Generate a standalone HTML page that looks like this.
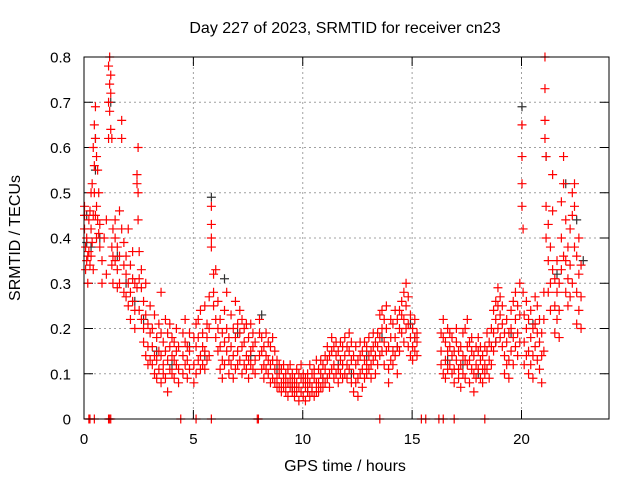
<!DOCTYPE html>
<html><head><meta charset="utf-8"><style>
body{margin:0;background:#fff;}
svg{display:block;font-family:"Liberation Sans",sans-serif;}
</style></head><body>
<svg id="chart" width="640" height="480">
<rect width="640" height="480" fill="#fff"/>
<text x="345" y="33" font-size="16" text-anchor="middle">Day 227 of 2023, SRMTID for receiver cn23</text>
<text x="345" y="471" font-size="16" text-anchor="middle">GPS time / hours</text>
<text transform="translate(20,238) rotate(-90)" font-size="16" text-anchor="middle">SRMTID / TECUs</text>
<g id="grid"></g><g id="ticks"></g><g id="black"></g><g id="red"></g>
<rect x="84" y="57" width="525" height="362" fill="none" stroke="#000" stroke-width="1"/>
</svg>
<script>
const xTicks=[0,5,10,15,20];
const yTicks=[0,0.1,0.2,0.3,0.4,0.5,0.6,0.7,0.8];
const yTickLabels=["0","0.1","0.2","0.3","0.4","0.5","0.6","0.7","0.8"];
const zeroTimes=[0.2,0.25,0.45,1.1,1.15,1.2,4.4,5.1,5.8,7.9,7.95,13.5,15.4,15.6,16.2,16.4,16.9,18.3];
const redTimes=[0,0.05,0.1,0.15,0.2,0.25,0.3,0.35,0.4,0.45,0.5,0.55,0.6,0.65,0.7,0.8,0.9,1.0,1.1,1.15,1.2,1.25,1.3,1.4,1.5,1.6,1.7,1.8,1.9,2.0,2.1,2.2,2.3,2.4,2.45,2.5,2.6,2.7,2.8,2.9,3.0,3.1,3.2,3.3,3.4,3.5,3.6,3.7,3.8,3.9,4.0,4.1,4.2,4.3,4.5,4.6,4.7,4.8,5.0,5.1,5.2,5.3,5.4,5.5,5.6,5.7,5.8,5.9,6.0,6.1,6.2,6.3,6.4,6.5,6.6,6.7,6.8,6.9,7.0,7.1,7.2,7.3,7.4,7.5,7.6,7.7,7.8,8.0,8.1,8.2,8.3,8.4,8.5,8.6,8.7,8.8,8.9,9.0,9.1,9.2,9.3,9.4,9.5,9.6,9.7,9.8,9.9,10.0,10.1,10.2,10.3,10.4,10.5,10.6,10.7,10.8,10.9,11.0,11.1,11.2,11.3,11.4,11.5,11.6,11.7,11.8,11.9,12.0,12.1,12.2,12.3,12.4,12.5,12.6,12.7,12.8,12.9,13.0,13.1,13.2,13.3,13.4,13.5,13.6,13.7,13.8,13.9,14.0,14.1,14.2,14.3,14.4,14.5,14.6,14.7,14.8,14.9,15.0,15.1,15.2,16.3,16.4,16.5,16.6,16.7,16.8,16.9,17.0,17.1,17.2,17.3,17.4,17.5,17.6,17.7,17.8,17.9,18.0,18.1,18.2,18.3,18.4,18.5,18.6,18.7,18.8,18.9,19.0,19.1,19.2,19.3,19.4,19.5,19.6,19.7,19.8,19.9,20.0,20.05,20.1,20.2,20.3,20.4,20.5,20.6,20.7,20.8,20.9,21.0,21.05,21.1,21.2,21.3,21.4,21.5,21.6,21.7,21.8,21.9,22.0,22.1,22.2,22.3,22.4,22.5,22.6,22.7];
const redValues=[[.45,.47,.42],[.38,.33],[.40,.35],[.30,.36],[.44,.37],[.46,.34],[.50,.42,.36],[.52,.39],[.45,.60,.33],[.65,.56,.50],[.69,.62,.45],[.58,.47,.40],[.55,.44],[.50,.41],[.43,.38],[.35,.30],[.40],[.44,.32],[.78,.70,.62],[.74,.80,.68],[.72,.76,.64],[.62,.38,.34],[.42,.36,.30],[.40,.35,.44],[.38,.33,.29],[.46,.36,.30],[.66,.62,.42],[.39,.34,.28],[.32,.27,.36],[.30,.25,.42],[.34,.28,.22],[.37,.31,.26],[.24,.20,.30],[.54,.52,.29],[.60,.50,.44],[.37,.31,.24],[.29,.22,.33],[.26,.20,.17],[.30,.23,.14],[.21,.16,.12],[.19,.13,.25],[.12,.16,.20],[.10,.14,.23],[.13,.18,.09],[.11,.15,.21],[.14,.08,.28,.19],[.12,.17,.10],[.15,.22,.09],[.13,.06,.19],[.16,.11,.21],[.10,.14,.18],[.13,.17,.09],[.15,.12,.20],[.11,.16,.08],[.14,.19,.10],[.17,.12,.22],[.13,.09,.16],[.15,.19,.11],[.12,.18,.08],[.16,.21,.10],[.22,.18,.13],[.24,.14,.11],[.19,.12,.16],[.15,.25,.11],[.18,.13,.21],[.14,.20,.27],[.47,.43,.38,.40],[.32,.28,.25],[.33,.22,.18],[.20,.15,.26],[.16,.11,.22],[.13,.19,.09],[.24,.17,.12],[.28,.20,.15],[.18,.13,.10],[.23,.16,.12],[.20,.14,.09],[.26,.18,.11],[.15,.21,.12],[.19,.13,.24],[.22,.16,.10],[.17,.12,.20],[.14,.21,.11],[.18,.13,.09],[.21,.15,.12],[.16,.11,.19],[.13,.17,.10],[.19,.14,.22],[.15,.11,.18],[.12,.16,.09],[.14,.19,.11],[.10,.13,.17],[.12,.16,.08],[.09,.13,.18],[.11,.15,.08],[.13,.09,.07],[.10,.07,.12],[.08,.11,.06],[.09,.07,.12],[.06,.10,.08],[.08,.05,.11],[.07,.09,.12],[.06,.08,.10],[.05,.09,.07],[.08,.11,.06],[.07,.04,.10],[.09,.06,.12],[.05,.08,.10],[.07,.04,.09],[.06,.10,.08],[.05,.08,.12],[.07,.10,.06],[.09,.05,.11],[.06,.08,.13],[.08,.11,.06],[.10,.07,.13],[.09,.12,.07],[.11,.08,.14],[.13,.09,.16],[.10,.14,.07],[.15,.11,.18],[.12,.16,.09],[.14,.10,.17],[.11,.15,.08],[.13,.17,.10],[.16,.12,.09],[.14,.10,.18],[.12,.16,.09],[.15,.11,.19],[.13,.08,.17],[.10,.14,.06],[.12,.16,.08],[.09,.13,.05],[.14,.10,.17],[.11,.15,.07],[.13,.09,.17],[.16,.12,.10],[.14,.11,.18],[.12,.15,.09],[.16,.13,.19],[.14,.10,.17],[.12,.16,.19],[.18,.14,.23],[.24,.20,.15],[.17,.12,.22],[.20,.15,.25],[.11,.16,.08],[.13,.18,.22],[.21,.15,.12],[.18,.24,.14],[.16,.22,.10],[.20,.15,.24],[.26,.19,.23],[.28,.22,.17],[.30,.25,.20],[.27,.21,.16],[.18,.23,.14],[.16,.20,.13],[.18,.15,.22],[.14,.19,.17],[.15,.19,.12],[.18,.22,.10],[.13,.17,.09],[.20,.15,.11],[.16,.12,.19],[.14,.18,.10],[.11,.15,.08],[.13,.17,.20],[.15,.11,.09],[.12,.16,.07],[.14,.10,.19],[.20,.13,.09],[.16,.12,.22],[.13,.17,.08],[.11,.15,.18],[.14,.10,.06],[.12,.16,.09],[.15,.11,.18],[.13,.09,.16],[.11,.14,.08],[.12,.16,.10],[.15,.11,.19],[.13,.17,.09],[.16,.12,.20],[.24,.19,.15],[.22,.26,.17],[.25,.20,.29],[.23,.18,.27],[.21,.16,.25],[.19,.14,.10],[.17,.22,.12],[.13,.09,.19],[.20,.15,.24],[.26,.18,.12],[.22,.28,.16],[.25,.19,.14],[.30,.23,.17],[.65,.58,.52,.47],[.42,.28],[.23,.17,.12],[.26,.20,.14],[.22,.15,.10],[.18,.12,.24],[.14,.09,.20],[.21,.16,.27],[.25,.19,.13],[.17,.11,.22],[.19,.14,.08],[.28,.22,.15],[.80,.73,.66,.62],[.58,.47,.40],[.43,.35,.28],[.38,.30,.24],[.54,.46,.33],[.31,.25,.19],[.35,.28,.22],[.30,.24,.18],[.48,.40,.33],[.58,.52,.36],[.44,.35,.28],[.38,.31,.25],[.42,.34,.27],[.50,.45,.30],[.52,.47,.38],[.36,.28,.21],[.40,.32,.24],[.34,.27,.20]];
const blackTimes=[0.1,0.3,0.5,0.7,1.2,1.5,1.9,2.3,2.7,3.3,4.0,4.8,5.5,5.8,6.4,7.0,7.6,8.1,8.8,9.5,10.2,10.9,11.6,12.2,12.9,13.6,14.3,14.9,15.1,16.6,17.3,18.0,18.8,19.5,20.0,20.5,21.1,21.6,22.0,22.5,22.8];
const blackValues=[[.39,.45],[.38],[.62,.55],[.40],[.70],[.36],[.30],[.26],[.22],[.15],[.12],[.16],[.14],[.49],[.31],[.19],[.14],[.23],[.11],[.07],[.06],[.09],[.12],[.10],[.14],[.18],[.16],[.21],[.18],[.13],[.12],[.10],[.17],[.19],[.69],[.21],[.58],[.32],[.52],[.44],[.35]];
const X=t=>84+t*(525/24);
const Y=v=>419-v*(362/0.8);
const NS="http://www.w3.org/2000/svg";
function mk(tag,attrs,parent){const e=document.createElementNS(NS,tag);for(const k in attrs)e.setAttribute(k,attrs[k]);parent.appendChild(e);return e;}
const grid=document.getElementById('grid'),ticks=document.getElementById('ticks');
yTicks.forEach((v,i)=>{
  const y=Y(v);
  if(i>0&&i<yTicks.length-1){const g=mk('line',{x1:84,x2:609,y1:y,y2:y,stroke:'#a0a0a0','stroke-dasharray':'2,3'},grid);
  
  }
  mk('line',{x1:84,x2:93,y1:y,y2:y,stroke:'#000'},ticks);
  mk('line',{x1:600,x2:609,y1:y,y2:y,stroke:'#000'},ticks);
  const t=mk('text',{x:71,y:y+5.5,'font-size':15,'text-anchor':'end'},ticks);t.textContent=yTickLabels[i];
  
  
});
xTicks.forEach(v=>{
  const x=X(v);
  if(v>0){const g=mk('line',{x1:x,x2:x,y1:57,y2:419,stroke:'#a0a0a0','stroke-dasharray':'2,3'},grid);
  
  }
  mk('line',{x1:x,x2:x,y1:419,y2:410,stroke:'#000'},ticks);
  mk('line',{x1:x,x2:x,y1:57,y2:66,stroke:'#000'},ticks);
  const t=mk('text',{x:x,y:444,'font-size':15,'text-anchor':'middle'},ticks);t.textContent=String(v);
  
  
});
function plus(g,t,v,c){
  const x=X(t),y=Y(v);
  const p=mk('path',{d:`M${x-4},${y}h9M${x+0.5},${y-4.5}v9`,stroke:c,'stroke-width':1.2,fill:'none'},g);
  
  
}
const bg=document.getElementById('black'),rg=document.getElementById('red');
blackTimes.forEach((t,i)=>blackValues[i].forEach(v=>plus(bg,t,v,'#333')));
redTimes.forEach((t,i)=>redValues[i].forEach(v=>plus(rg,t,v,'#f00')));
zeroTimes.forEach(t=>plus(rg,t,0,'#f00'));
</script>
</body></html>
